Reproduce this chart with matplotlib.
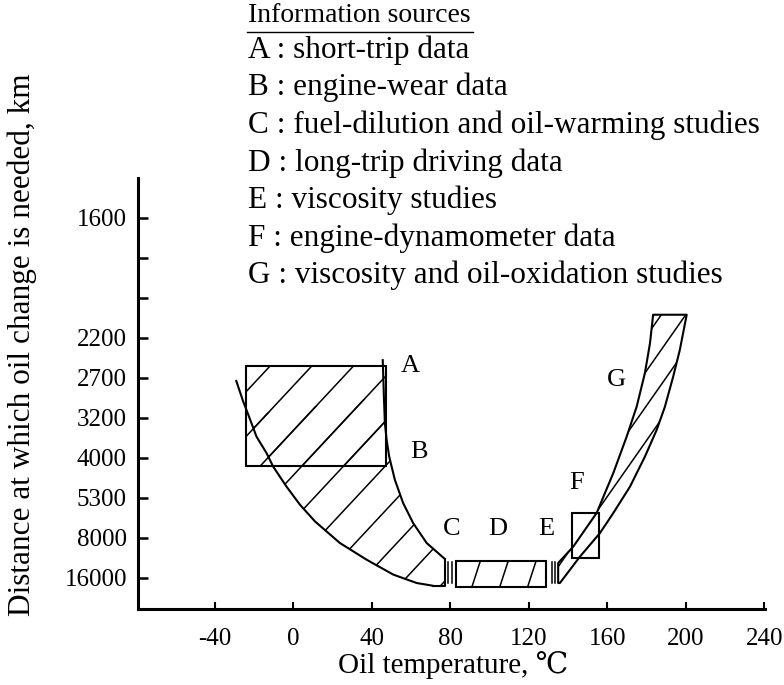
import numpy as np
import matplotlib
matplotlib.use("Agg")
import matplotlib.pyplot as plt
from matplotlib.patches import Polygon, Rectangle

plt.rcParams['font.family'] = ['Liberation Serif', 'DejaVu Serif']

# ---------------- data ----------------
y_tick_pos = [0, 1, 2, 3, 4, 5, 6, 7, 8, 9]
y_tick_labels = ['16000', '8000', '5300', '4000', '3200', '2700', '2200', '', '', '1600']
x_ticks = [-40, 0, 40, 80, 120, 160, 200, 240]

# A: short-trip data (box)
a_temp = [-24, 47]
a_dist = [2.8, 5.3]

# B: engine-wear band (lower/left curve and upper/right curve)
b_left_temp = [-29.3, -25.6, -23.0, -18.8, -13.7, -10.3, -3.5, 3.3, 11.0, 23.7, 37.4, 50.9, 62.8, 71.3]
b_left_dist = [4.95, 4.41, 4.08, 3.53, 3.12, 2.78, 2.28, 1.83, 1.41, 0.87, 0.45, 0.08, -0.13, -0.20]
b_right_temp = [45.5, 46.1, 46.6, 47.5, 48.8, 51.7, 55.9, 61.0, 67.9, 77.2]
b_right_dist = [5.47, 4.53, 3.87, 3.45, 3.03, 2.45, 1.87, 1.37, 0.87, 0.47]
b_end_dist = -0.20

# C and E marks
c_temp = [78.7, 80.8]
e_temp = [131.7, 133.2]
mark_dist = [-0.13, 0.40]

# D: long-trip box
d_temp = [82.8, 128.7]
d_dist = [-0.22, 0.42]

# F: engine-dynamometer box
f_temp = [141.9, 155.7]
f_dist = [0.50, 1.63]

# G (with E): viscosity / oxidation band
g_left_temp = [134.9, 134.9, 142.6, 154.5, 163.0, 169.8, 174.9, 179.1, 181.7, 183.3]
g_left_dist = [-0.13, 0.37, 0.78, 1.62, 2.62, 3.53, 4.28, 5.12, 5.87, 6.58]
g_right_temp = [200.4, 196.9, 193.5, 189.3, 185.1, 179.1, 171.5, 163.0, 156.2, 146.0, 135.8]
g_right_dist = [6.58, 5.70, 5.03, 4.28, 3.70, 3.03, 2.28, 1.62, 1.12, 0.53, -0.13]

# region letters
letters = ['A', 'B', 'C', 'D', 'E', 'F', 'G']
letter_temp = [59.5, 64.0, 80.8, 104.2, 128.7, 144.5, 164.8]
letter_dist = [5.3, 3.15, 1.23, 1.23, 1.23, 2.38, 4.95]

legend_title = 'Information sources'
legend_items = ['A : short-trip data',
                'B : engine-wear data',
                'C : fuel-dilution and oil-warming studies',
                'D : long-trip driving data',
                'E : viscosity studies',
                'F : engine-dynamometer data',
                'G : viscosity and oil-oxidation studies']

# ---------------- figure ----------------
W, H = 784, 685
fig = plt.figure(figsize=(W / 100, H / 100), dpi=100)
ax = fig.add_axes([138 / W, 1 - 609 / H, (765 - 138) / W, (609 - 178) / H])
ax.set_xlim(-79.2, 240.3)
ax.set_ylim(-0.78, 10.0)

LW = 1.5
HLW = 1.1

def hatch(patch, angle, spacing, anchor):
    path = patch.get_path().transformed(patch.get_transform())
    ext = path.get_extents()
    th = np.deg2rad(angle)
    d = np.array([np.cos(th), np.sin(th)])
    n = np.array([-np.sin(th), np.cos(th)])
    a = ax.transData.transform(anchor)
    corners = np.array([[ext.x0, ext.y0], [ext.x1, ext.y0], [ext.x0, ext.y1], [ext.x1, ext.y1]])
    proj = (corners - a) @ n
    k0 = int(np.floor(proj.min() / spacing)) - 1
    k1 = int(np.ceil(proj.max() / spacing)) + 1
    L = 2000
    inv = ax.transData.inverted()
    for k in range(k0, k1 + 1):
        c = a + k * spacing * n
        pts = inv.transform(np.array([c - L * d, c + L * d]))
        ln, = ax.plot(pts[:, 0], pts[:, 1], color='black', lw=HLW, solid_capstyle='butt')
        ln.set_clip_path(patch)

# ---- A box
rect_a = Rectangle((a_temp[0], a_dist[0]), a_temp[1] - a_temp[0], a_dist[1] - a_dist[0],
                   fill=False, ec='black', lw=LW)
ax.add_patch(rect_a)
hatch(rect_a, 47, 30.5, (9.4, 5.3))

# ---- B band
band_b_x = b_left_temp[2:] + [b_right_temp[-1], b_right_temp[-1]] + b_right_temp[::-1][:-1]
band_b_y = b_left_dist[2:] + [b_end_dist, b_right_dist[-1]] + b_right_dist[::-1][:-1]
poly_b = Polygon(np.column_stack([band_b_x, band_b_y]), closed=True, fill=False, lw=0)
ax.add_patch(poly_b)
hatch(poly_b, 47, 30.5, (9.4, 5.3))
ax.plot(b_left_temp, b_left_dist, color='black', lw=LW, solid_capstyle='butt')
ax.plot(b_right_temp, b_right_dist, color='black', lw=LW, solid_capstyle='butt')
ax.plot([b_left_temp[-1], b_right_temp[-1], b_right_temp[-1]],
        [b_end_dist, b_end_dist, b_right_dist[-1]], color='black', lw=LW)

# ---- C, E marks
for t in c_temp + e_temp:
    ax.plot([t, t], mark_dist, color='black', lw=1.1)

# ---- D box
rect_d = Rectangle((d_temp[0], d_dist[0]), d_temp[1] - d_temp[0], d_dist[1] - d_dist[0],
                   fill=False, ec='black', lw=LW)
ax.add_patch(rect_d)
hatch(rect_d, 72, 26.5, (105.2, -0.22))

# ---- G band
band_g_x = g_left_temp + g_right_temp
band_g_y = g_left_dist + g_right_dist
poly_g = Polygon(np.column_stack([band_g_x, band_g_y]), closed=True, fill=False,
                 ec='black', lw=LW, joinstyle='round')
ax.add_patch(poly_g)
hatch(poly_g, 55, 20, (179.1, 5.12))

# ---- F box
rect_f = Rectangle((f_temp[0], f_dist[0]), f_temp[1] - f_temp[0], f_dist[1] - f_dist[0],
                   fill=False, ec='black', lw=LW)
ax.add_patch(rect_f)

# ---- letters
for s, t, dd in zip(letters, letter_temp, letter_dist):
    ax.text(t, dd, s, fontsize=19, ha='center', va='center')

# ---- axes styling
for side in ['top', 'right']:
    ax.spines[side].set_visible(False)
for side in ['left', 'bottom']:
    ax.spines[side].set_linewidth(2.2)
ax.set_yticks(y_tick_pos)
ax.set_yticklabels(y_tick_labels, fontsize=18)
ax.set_xticks(x_ticks)
ax.set_xticklabels([str(v) for v in x_ticks], fontsize=18)
ax.tick_params(axis='y', direction='in', length=7, width=1.8, pad=8)
ax.tick_params(axis='x', direction='in', length=5, width=1.5, pad=14)

fig.text(453 / W, 1 - 665 / H, 'Oil temperature, \u2103', fontsize=21, ha='center', va='center')
fig.text(22 / W, 1 - 345 / H, 'Distance at which oil change is needed, km', fontsize=22.5,
         ha='center', va='center', rotation=90)

# ---- legend block
fig.text(248 / W, 1 - 16 / H, legend_title, fontsize=20, ha='left', va='center')
fig.add_artist(plt.Line2D([247 / W, 473 / W], [1 - 32 / H, 1 - 32 / H], color='black', lw=1.0))
for i, s in enumerate(legend_items):
    fig.text(248 / W, 1 - (50 + 37.6 * i) / H, s, fontsize=22.5, ha='left', va='center')

fig.savefig('out.png', dpi=100)
